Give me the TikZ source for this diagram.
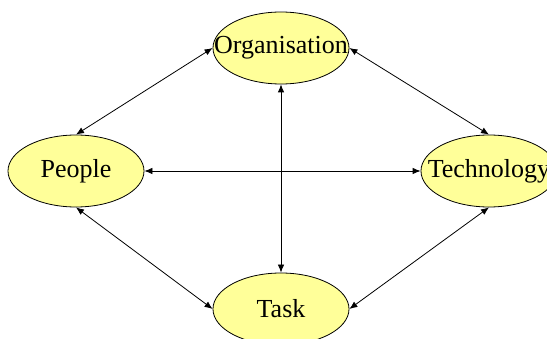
\documentclass[tikz,border=0pt]{standalone}
\usepackage{fontspec}
\setmainfont{Liberation Serif}
\usepackage{tikz}
\usetikzlibrary{positioning}
\usetikzlibrary{shapes.geometric}
\usetikzlibrary{arrows.meta}
\definecolor{factorfill}{RGB}{255,255,153}

\begin{document}
\begin{tikzpicture}
		[x=1pt, y=-1pt,
		factor/.style={ellipse, draw=black, line width=0.8pt, fill=factorfill,
			minimum width=136pt, minimum height=72pt, inner sep=0pt,
			font=\fontsize{26}{30}\selectfont, on grid},
		link/.style={<->, line width=0.8pt},
		>={Latex[length=8pt, width=6.5pt]}]
		\useasboundingbox (0,0) rectangle (547,339);
		\node[factor] (people) at (76,171) {\makebox[0pt]{People}};
		\node[factor, right=413pt of people] (tech) {\makebox[0pt]{Technology}};
		\node[factor, above right=123pt and 205pt of people] (org) {\makebox[0pt]{Organisation}};
		\node[factor, below right=138pt and 205pt of people] (task) {\makebox[0pt]{Task}};

		\draw[link] (org.west) -- (people.north);
		\draw[link] (org.east) -- (tech.north);
		\draw[link] (org.south) -- (task.north);
		\draw[link] (people.east) -- (tech.west);
		\draw[link] (people.south) -- (task.west);
		\draw[link] (tech.south) -- (task.east);
	\end{tikzpicture}
\end{document}
